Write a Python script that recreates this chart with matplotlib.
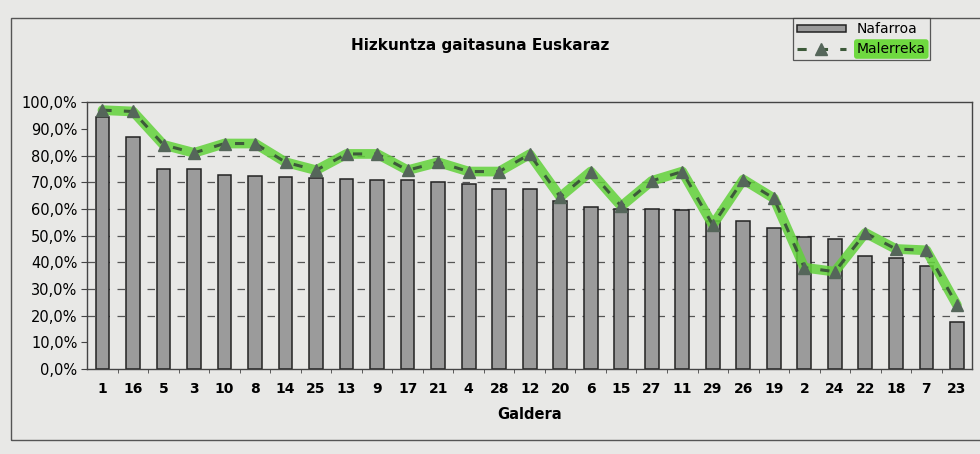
import matplotlib.pyplot as plt
from matplotlib.patches import Rectangle
from matplotlib.ticker import FuncFormatter

galdera = ['1', '16', '5', '3', '10', '8', '14', '25', '13', '9', '17', '21', '4', '28',
           '12', '20', '6', '15', '27', '11', '29', '26', '19', '2', '24', '22', '18', '7', '23']
nafarroa = [94.5, 87, 75, 75, 72.7, 72.3, 71.8, 71.5, 71.3, 71, 71, 70.2, 69.4, 67.5,
            67.4, 62.8, 60.8, 60, 59.9, 59.5, 55.5, 55.4, 53, 49.4, 48.8, 42.5, 41.8, 38.8, 17.8]
malerreka = [97, 96.5, 84, 81, 84.5, 84.5, 77.5, 74.5, 80.6, 80.6, 74.5, 77.5, 74, 74,
             80.5, 64.5, 74, 61, 70.5, 74, 54, 71, 64, 38, 36.5, 51, 45, 44.5, 24]
grid_levels = [20, 30, 40, 50, 60, 70, 80]

paper = '#e8e8e6'
fig = plt.figure(figsize=(9.8, 4.54), dpi=100, facecolor=paper)
ax = fig.add_axes([0.089, 0.187, 0.903, 0.588], facecolor=paper)

x = list(range(len(galdera)))

for g in grid_levels:
    ax.axhline(g, color='#555555', lw=0.9, ls=(0, (6, 6)), zorder=1)

bars = ax.bar(x, nafarroa, width=0.45, color='#9b9b9b', edgecolor='#222222', lw=1.1,
              zorder=2, label='Nafarroa')

# highlighter stroke over the Malerreka line
ax.plot(x, malerreka, color='#62d23a', lw=7, alpha=0.85, solid_capstyle='round',
        solid_joinstyle='round', zorder=3)
line, = ax.plot(x, malerreka, color='#3d5a3a', lw=2.2, ls=(0, (3, 4)), marker='^', ms=8,
                markerfacecolor='#55665a', markeredgecolor='#55665a', zorder=4,
                label='Malerreka')

ax.set_xlim(-0.5, len(galdera) - 0.5)
ax.set_ylim(0, 100)
ax.set_yticks(range(0, 101, 10))
ax.yaxis.set_major_formatter(FuncFormatter(lambda v, p: f'{v:.1f}%'.replace('.', ',')))
ax.set_xticks(x)
ax.set_xticks([i + 0.5 for i in x[:-1]], minor=True)
ax.set_xticklabels(galdera, fontweight='bold', fontsize=10)
ax.tick_params(axis='y', labelsize=10.5, length=4, color='#444444', pad=3)
ax.tick_params(axis='x', which='major', length=0, pad=9)
ax.tick_params(axis='x', which='minor', length=3, color='#444444')
ax.set_xlabel('Galdera', fontweight='bold', fontsize=10.5, labelpad=8)

for s in ['top', 'right', 'left', 'bottom']:
    ax.spines[s].set_color('#444444')
    ax.spines[s].set_linewidth(1.0)

fig.text(0.49, 0.9, 'Hizkuntza gaitasuna Euskaraz', ha='center', va='center',
         fontweight='bold', fontsize=11)

# outer chart frame
fig.patches.append(Rectangle((0.011, 0.03), 1.2, 0.93, transform=fig.transFigure,
                             fill=False, edgecolor='#555555', lw=1.0))

leg = fig.legend([bars, line], ['Nafarroa', 'Malerreka'], loc='upper left',
                 bbox_to_anchor=(0.802, 0.975), fontsize=10,
                 frameon=True, fancybox=False, edgecolor='#333333', facecolor=paper,
                 handlelength=3.5, handleheight=0.5, borderpad=0.3, labelspacing=0.4)
leg.get_frame().set_linewidth(0.9)
leg.get_texts()[1].set_bbox(dict(facecolor='#6fd940', edgecolor='none',
                                  boxstyle='round,pad=0.2'))

fig.savefig('out.png', dpi=100, facecolor=paper)
